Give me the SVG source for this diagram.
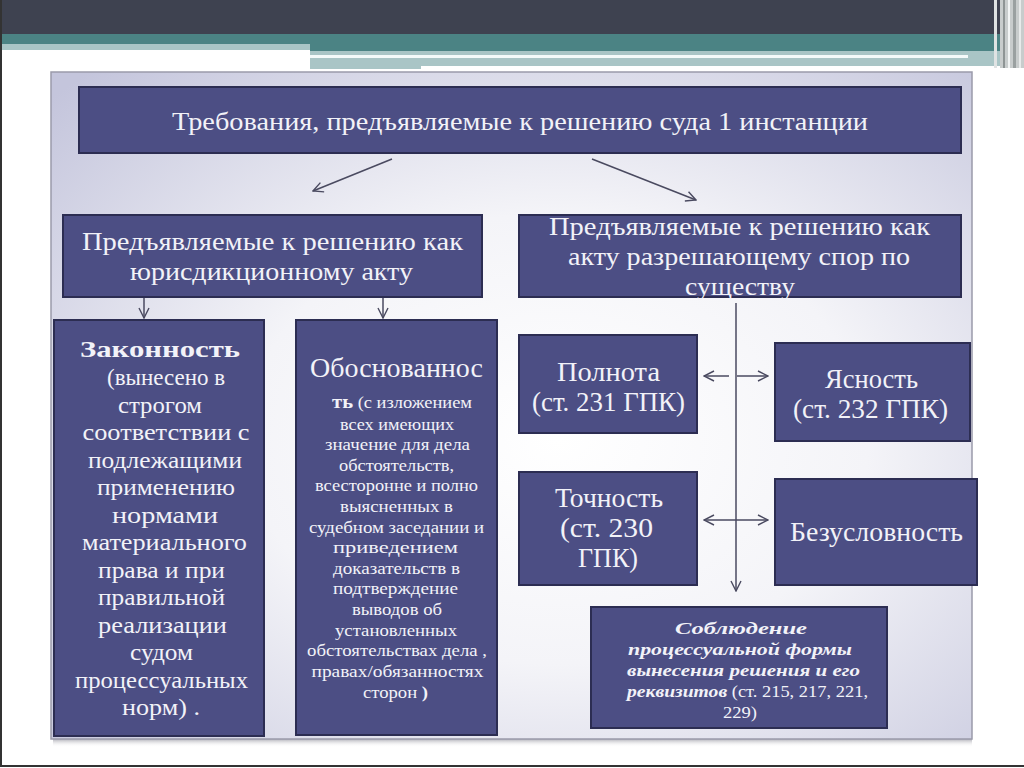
<svg xmlns="http://www.w3.org/2000/svg" width="1024" height="768" viewBox="0 0 1024 768">
<defs>
<radialGradient id="pg" cx="0.55" cy="0.55" r="0.75">
<stop offset="0" stop-color="#ffffff"/>
<stop offset="0.45" stop-color="#f4f4f8"/>
<stop offset="1" stop-color="#c4c5dc"/>
</radialGradient>
<linearGradient id="sh" x1="0" y1="0" x2="0" y2="1">
<stop offset="0" stop-color="#b0b0b8"/>
<stop offset="1" stop-color="#ffffff" stop-opacity="0"/>
</linearGradient>
<marker id="ah" viewBox="0 0 12 12" refX="11" refY="6" markerWidth="12" markerHeight="12" markerUnits="userSpaceOnUse" orient="auto-start-reverse">
<path d="M1,1 L11,6 L1,11" fill="none" stroke="#4a4a60" stroke-width="1.4"/>
</marker>
<style>
.box{fill:#4c4e84;stroke:#2c2d52;stroke-width:2}
.t{font-family:"Liberation Serif","Times New Roman",serif;fill:#f2f2f8;text-anchor:middle}
.big{font-size:27px}
.hd{font-size:25px}
.mid{font-size:24px}
.sm{font-size:17px}
.bi{font-size:17px;font-weight:bold;font-style:italic}
.ln{stroke:#4a4a60;stroke-width:1.5;fill:none}
</style>
</defs>
<rect x="0" y="0" width="1024" height="768" fill="#ffffff"/>
<!-- top banner -->
<rect x="0" y="0" width="1000" height="34" fill="#3e4250"/>
<rect x="0" y="34" width="1000" height="10" fill="#4b8384"/>
<rect x="0" y="44" width="310" height="6" fill="#a9c5c6"/>
<rect x="310" y="44" width="690" height="7" fill="#4b8384"/>
<rect x="310" y="51" width="690" height="15" fill="#a9c5c6"/>
<rect x="310" y="55" width="658" height="3" fill="#f4fafa"/>
<rect x="310" y="66" width="111" height="3" fill="#a9c5c6"/>
<rect x="1000" y="0" width="24" height="68" fill="#c8cccc"/>
<rect x="994" y="0" width="3" height="68" fill="#dfe3e3"/>
<rect x="1003" y="0" width="2" height="68" fill="#8e9494"/>
<rect x="1008" y="0" width="2" height="68" fill="#f2f4f4"/>
<rect x="1013" y="0" width="3" height="68" fill="#9aa0a0"/>
<rect x="1019" y="0" width="2" height="68" fill="#e8eaea"/>
<!-- frame -->
<line x1="1" y1="0" x2="1" y2="766" stroke="#333" stroke-width="2"/>
<line x1="0" y1="766" x2="1024" y2="766" stroke="#333" stroke-width="2"/>
<!-- panel -->
<rect x="53" y="739" width="919" height="8" fill="url(#sh)"/>
<rect x="51" y="72" width="921" height="667" fill="url(#pg)" stroke="#9a9aaa" stroke-width="1.5"/>

<g id="connectors">
<line class="ln" x1="392" y1="159" x2="313" y2="191" marker-end="url(#ah)"/>
<line class="ln" x1="592" y1="159" x2="696" y2="200" marker-end="url(#ah)"/>
<line class="ln" x1="144" y1="297" x2="144" y2="318" marker-end="url(#ah)"/>
<line class="ln" x1="383" y1="297" x2="383" y2="318" marker-end="url(#ah)"/>
<line class="ln" x1="736" y1="303" x2="736" y2="591" marker-end="url(#ah)"/>
<line class="ln" x1="729" y1="376" x2="704" y2="376" marker-end="url(#ah)"/>
<line class="ln" x1="737" y1="376" x2="768" y2="376" marker-end="url(#ah)"/>
<line class="ln" x1="704" y1="520" x2="768" y2="520" marker-start="url(#ah)" marker-end="url(#ah)"/>
</g>

<g id="header">
<rect class="box" x="79" y="87" width="882" height="66"/>
<text class="t hd" x="520" y="130" textLength="696" lengthAdjust="spacingAndGlyphs">Требования, предъявляемые к решению суда 1 инстанции</text>
</g>

<g id="jurisdictional">
<rect class="box" x="63" y="215" width="419" height="82"/>
<text class="t hd" x="272.5" y="250" textLength="381" lengthAdjust="spacingAndGlyphs">Предъявляемые к решению как</text>
<text class="t hd" x="271.5" y="280" textLength="283" lengthAdjust="spacingAndGlyphs">юрисдикционному акту</text>
</g>

<g id="dispute">
<rect class="box" x="519" y="215" width="442" height="82"/>
<text class="t hd" x="739.5" y="235" textLength="381" lengthAdjust="spacingAndGlyphs">Предъявляемые к решению как</text>
<text class="t hd" x="739" y="265" textLength="342" lengthAdjust="spacingAndGlyphs">акту разрешающему спор по</text>
<text class="t hd" x="740" y="295" textLength="110" lengthAdjust="spacingAndGlyphs">существу</text>
</g>

<g id="legality">
<rect class="box" x="54" y="320" width="210" height="416"/>
<text class="t mid" x="160" y="357" font-weight="bold" font-size="25px" textLength="160" lengthAdjust="spacingAndGlyphs">Законность</text>
<text class="t mid" x="166" y="385" textLength="118" lengthAdjust="spacingAndGlyphs">(вынесено в</text>
<text class="t mid" x="160" y="412.5" textLength="84" lengthAdjust="spacingAndGlyphs">строгом</text>
<text class="t mid" x="166" y="440" textLength="167" lengthAdjust="spacingAndGlyphs">соответствии с</text>
<text class="t mid" x="165" y="467.5" textLength="154" lengthAdjust="spacingAndGlyphs">подлежащими</text>
<text class="t mid" x="166" y="495" textLength="138" lengthAdjust="spacingAndGlyphs">применению</text>
<text class="t mid" x="165" y="522.5" textLength="106" lengthAdjust="spacingAndGlyphs">нормами</text>
<text class="t mid" x="164.5" y="550" textLength="165" lengthAdjust="spacingAndGlyphs">материального</text>
<text class="t mid" x="161.5" y="577.5" textLength="127" lengthAdjust="spacingAndGlyphs">права и при</text>
<text class="t mid" x="161.5" y="605" textLength="127" lengthAdjust="spacingAndGlyphs">правильной</text>
<text class="t mid" x="162.5" y="632.5" textLength="129" lengthAdjust="spacingAndGlyphs">реализации</text>
<text class="t mid" x="161.5" y="660" textLength="63" lengthAdjust="spacingAndGlyphs">судом</text>
<text class="t mid" x="161.5" y="687.5" textLength="173" lengthAdjust="spacingAndGlyphs">процессуальных</text>
<text class="t mid" x="161" y="715" textLength="78" lengthAdjust="spacingAndGlyphs">норм) .</text>
</g>

<g id="validity">
<rect class="box" x="296" y="320" width="201" height="415"/>
<text class="t" x="396.5" y="377" font-size="27px" textLength="173" lengthAdjust="spacingAndGlyphs">Обоснованнос</text>
<text class="t sm" x="402" y="408" textLength="140" lengthAdjust="spacingAndGlyphs"><tspan font-size="19px" font-weight="bold">ть</tspan> (с изложением</text>
<text class="t sm" x="397" y="429.6" textLength="114" lengthAdjust="spacingAndGlyphs">всех имеющих</text>
<text class="t sm" x="397.5" y="450.2" textLength="145" lengthAdjust="spacingAndGlyphs">значение для дела</text>
<text class="t sm" x="396.5" y="470.8" textLength="115" lengthAdjust="spacingAndGlyphs">обстоятельств,</text>
<text class="t sm" x="396.5" y="491.4" textLength="163" lengthAdjust="spacingAndGlyphs">всесторонне и полно</text>
<text class="t sm" x="396.5" y="512" textLength="113" lengthAdjust="spacingAndGlyphs">выясненных в</text>
<text class="t sm" x="396.5" y="532.6" textLength="175" lengthAdjust="spacingAndGlyphs">судебном заседании и</text>
<text class="t sm" x="395.5" y="553.2" textLength="125" lengthAdjust="spacingAndGlyphs">приведением</text>
<text class="t sm" x="396.5" y="573.8" textLength="127" lengthAdjust="spacingAndGlyphs">доказательств в</text>
<text class="t sm" x="395.5" y="594.4" textLength="125" lengthAdjust="spacingAndGlyphs">подтверждение</text>
<text class="t sm" x="397" y="615" textLength="90" lengthAdjust="spacingAndGlyphs">выводов об</text>
<text class="t sm" x="396" y="635.6" textLength="122" lengthAdjust="spacingAndGlyphs">установленных</text>
<text class="t sm" x="397" y="656.2" textLength="180" lengthAdjust="spacingAndGlyphs">обстоятельствах дела ,</text>
<text class="t sm" x="397.5" y="676.8" textLength="172" lengthAdjust="spacingAndGlyphs">правах/обязанностях</text>
<text class="t sm" x="395.5" y="698" textLength="65" lengthAdjust="spacingAndGlyphs">сторон <tspan font-weight="bold">)</tspan></text>
</g>

<g id="completeness">
<rect class="box" x="519" y="335" width="178" height="98"/>
<text class="t big" x="608.5" y="381" textLength="103" lengthAdjust="spacingAndGlyphs">Полнота</text>
<text class="t big" x="608.5" y="411" textLength="153" lengthAdjust="spacingAndGlyphs">(ст. 231 ГПК)</text>
</g>

<g id="clarity">
<rect class="box" x="775" y="343" width="195" height="98"/>
<text class="t big" x="871.5" y="388" textLength="93" lengthAdjust="spacingAndGlyphs">Ясность</text>
<text class="t big" x="870.5" y="418" textLength="155" lengthAdjust="spacingAndGlyphs">(ст. 232 ГПК)</text>
</g>

<g id="accuracy">
<rect class="box" x="519" y="472" width="178" height="113"/>
<text class="t big" x="609" y="507" textLength="108" lengthAdjust="spacingAndGlyphs">Точность</text>
<text class="t big" x="606.5" y="537" textLength="93" lengthAdjust="spacingAndGlyphs">(ст. 230</text>
<text class="t big" x="608" y="567" textLength="60" lengthAdjust="spacingAndGlyphs">ГПК)</text>
</g>

<g id="unconditionality">
<rect class="box" x="775" y="479" width="202" height="106"/>
<text class="t big" x="876.5" y="541" textLength="173" lengthAdjust="spacingAndGlyphs">Безусловность</text>
</g>

<g id="procedure">
<rect class="box" x="591" y="607" width="296" height="121"/>
<text class="t bi" x="741" y="634" font-size="19px" textLength="132" lengthAdjust="spacingAndGlyphs">Соблюдение</text>
<text class="t bi" x="740" y="655" textLength="224" lengthAdjust="spacingAndGlyphs">процессуальной формы</text>
<text class="t bi" x="743.5" y="676" textLength="233" lengthAdjust="spacingAndGlyphs">вынесения решения  и его</text>
<text class="t" x="747.5" y="697" textLength="241" lengthAdjust="spacingAndGlyphs"><tspan class="bi">реквизитов</tspan><tspan font-size="16px"> (ст. 215, 217, 221,</tspan></text>
<text class="t" x="740" y="718" font-size="16px" textLength="34" lengthAdjust="spacingAndGlyphs">229)</text>
</g>
</svg>
